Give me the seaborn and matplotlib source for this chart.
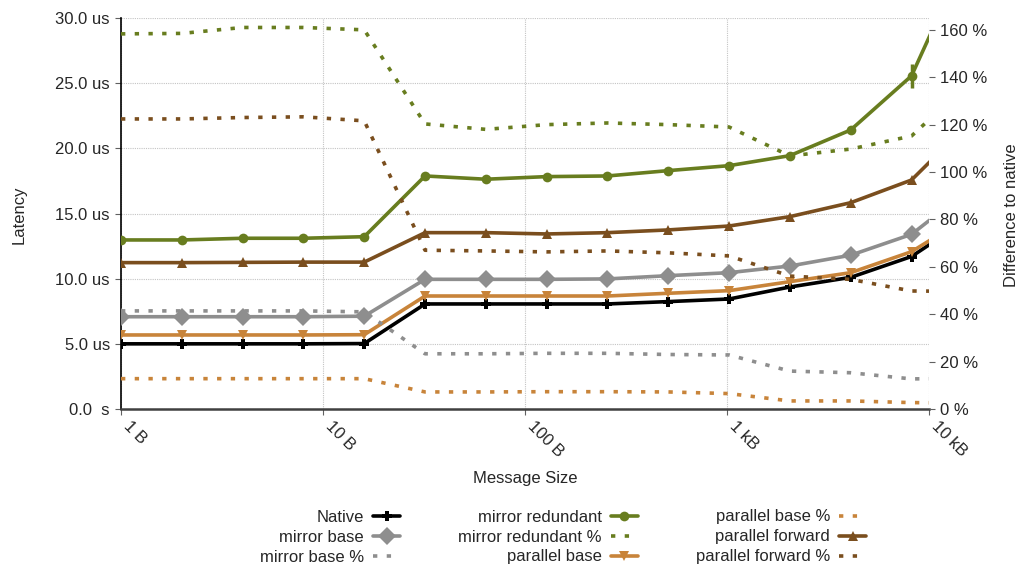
import numpy as np
import matplotlib
matplotlib.use("Agg")
import matplotlib.pyplot as plt
from matplotlib.ticker import FuncFormatter, FixedLocator, NullLocator
from matplotlib.lines import Line2D
import seaborn as sns

# Message sizes in bytes (the 16 kB sample lies past the 10 kB axis limit)
sizes = [1, 2, 4, 8, 16, 32, 64, 128, 256, 512, 1024, 2048, 4096, 8192, 16384]

# Latency in microseconds
native = [5.0, 5.0, 5.0, 5.0, 5.02, 8.06, 8.06, 8.06, 8.06, 8.24, 8.44, 9.36, 10.1, 11.7, 14.8]
mirror_base = [7.08, 7.08, 7.08, 7.08, 7.12, 9.95, 9.95, 9.95, 9.98, 10.23, 10.46, 10.97, 11.8, 13.4, 17.05]
mirror_redundant = [12.97, 12.97, 13.1, 13.1, 13.22, 17.88, 17.63, 17.83, 17.88, 18.29, 18.67, 19.44, 21.41, 25.56, 35.8]
mirror_redundant_err = [0, 0, 0, 0, 0, 0, 0, 0, 0, 0, 0, 0, 0, 0.9, 0]
parallel_base = [5.68, 5.68, 5.68, 5.68, 5.7, 8.67, 8.67, 8.67, 8.67, 8.88, 9.08, 9.77, 10.46, 12.07, 14.95]
parallel_forward = [11.23, 11.23, 11.25, 11.27, 11.27, 13.53, 13.53, 13.43, 13.53, 13.74, 14.04, 14.76, 15.83, 17.57, 22.2]

# Overhead relative to native, in percent
mirror_base_pct = [41.4, 41.4, 41.4, 41.4, 41.0, 23.3, 23.3, 23.5, 23.5, 23.0, 22.8, 16.0, 15.3, 12.7, 13.0]
mirror_redundant_pct = [158.3, 158.5, 161.0, 161.0, 160.0, 120.3, 118.0, 120.0, 120.7, 120.0, 119.0, 106.8, 109.7, 115.2, 139.0]
parallel_base_pct = [12.8, 12.8, 12.8, 12.8, 12.8, 7.2, 7.2, 7.3, 7.3, 7.2, 6.5, 3.4, 3.4, 2.7, 2.5]
parallel_forward_pct = [122.4, 122.4, 123.0, 123.3, 121.6, 67.0, 66.7, 66.3, 66.7, 65.9, 64.6, 56.1, 54.7, 49.8, 49.6]

x_ticks = [1, 10, 100, 1000, 10000]
x_tick_labels = ["1 B", "10 B", "100 B", "1 kB", "10 kB"]
y_ticks = [0, 5, 10, 15, 20, 25, 30]
pct_ticks = [0, 20, 40, 60, 80, 100, 120, 140, 160]

BLACK = "#000000"
GRAY = "#8e8e8e"
GREEN = "#687d1f"
ORANGE = "#c8843a"
BROWN = "#7a4e1e"

sns.set_style("white")
plt.rcParams["font.family"] = ["Liberation Sans", "DejaVu Sans"]
plt.rcParams["font.size"] = 12

fig = plt.figure(figsize=(10.18, 5.67), dpi=100)
ax = fig.add_axes([121 / 1018, 1 - 409 / 567, 808 / 1018, 391 / 567])
ax2 = ax.twinx()

LW = 2.6
DOT_LW = 2.6
DOT = (0, (1.2, 2.6))

solid_specs = [
    ("Native", native, BLACK, "P", dict(markersize=7.5, markeredgewidth=0)),
    ("mirror base", mirror_base, GRAY, "D", dict(markersize=9, markeredgewidth=0)),
    ("mirror redundant", mirror_redundant, GREEN, "o", dict(markersize=7, markeredgewidth=0)),
    ("parallel base", parallel_base, ORANGE, "v", dict(markersize=7, markeredgewidth=0)),
    ("parallel forward", parallel_forward, BROWN, "^", dict(markersize=7, markeredgewidth=0)),
]
pct_specs = [
    ("mirror base %", mirror_base_pct, GRAY),
    ("mirror redundant %", mirror_redundant_pct, GREEN),
    ("parallel base %", parallel_base_pct, ORANGE),
    ("parallel forward %", parallel_forward_pct, BROWN),
]

handles = {}
for name, vals, col, mk, mkw in solid_specs:
    sns.lineplot(x=sizes, y=vals, ax=ax, color=col, linewidth=LW, marker=mk,
                 markerfacecolor=col, markeredgecolor=col, zorder=3, **mkw)
    handles[name] = Line2D([], [], color=col, linewidth=LW, marker=mk,
                           markerfacecolor=col, markeredgecolor=col, **mkw)

ax.errorbar(sizes, mirror_redundant, yerr=mirror_redundant_err, fmt="none",
            ecolor=GREEN, elinewidth=2.5, capsize=0, zorder=3)

for name, vals, col in pct_specs:
    sns.lineplot(x=sizes, y=vals, ax=ax2, color=col, linewidth=DOT_LW,
                 linestyle=DOT, dash_capstyle="butt", zorder=2)
    handles[name] = Line2D([], [], color=col, linewidth=DOT_LW, linestyle=DOT,
                           dash_capstyle="butt")

# Axes scales and ticks
ax.set_xscale("log")
ax.set_xlim(1, 10000)
ax.set_ylim(0, 30)
ax2.set_ylim(0, 165)

ax.xaxis.set_major_locator(FixedLocator(x_ticks))
ax.xaxis.set_minor_locator(NullLocator())
ax.set_xticklabels(x_tick_labels, rotation=-45, ha="left", va="top",
                   rotation_mode="default")
ax.yaxis.set_major_locator(FixedLocator(y_ticks))
ax.yaxis.set_major_formatter(FuncFormatter(
    lambda v, p: "0.0  s" if v == 0 else f"{v:.1f} us"))
ax2.yaxis.set_major_locator(FixedLocator(pct_ticks))
ax2.yaxis.set_major_formatter(FuncFormatter(lambda v, p: f"{v:.0f} %"))

ax.tick_params(axis="y", which="major", direction="out", length=4, width=0.8,
               color="#606060", labelsize=12, pad=4, left=True)
ax.tick_params(axis="x", which="major", direction="out", length=4, width=0.8,
               color="#606060", labelsize=12, pad=3, bottom=True)
ax2.tick_params(axis="y", which="major", direction="out", length=4, width=0.8,
                color="#606060", labelsize=12, pad=4, right=True)

# Dotted grid
ax.grid(True, which="major", axis="both", color="#c4c4c4", linestyle=(0, (1, 1)),
        linewidth=0.8)
ax.set_axisbelow(True)
ax2.grid(False)

for a in (ax, ax2):
    a.spines["top"].set_visible(False)
    a.spines["right"].set_visible(False)
ax2.spines["left"].set_visible(False)
ax2.spines["bottom"].set_visible(False)
ax.spines["left"].set_color("#000000")
ax.spines["left"].set_linewidth(1.2)
ax.spines["bottom"].set_color("#404040")
ax.spines["bottom"].set_linewidth(1.8)

# Axis titles
ax.set_xlabel("Message Size", fontsize=12, va="center")
ax.xaxis.set_label_coords(0.5, (409 - 478) / 391)
ax.set_ylabel("Latency", fontsize=12, va="center")
ax.yaxis.set_label_coords((19 - 121) / 808, 0.496)
ax2.set_ylabel("Difference to native", fontsize=12, va="center", rotation=90)
ax2.yaxis.set_label_coords((1011 - 121) / 808, 0.496)

order = ["Native", "mirror base", "mirror base %",
         "mirror redundant", "mirror redundant %", "parallel base",
         "parallel base %", "parallel forward", "parallel forward %"]
fig.legend([handles[k] for k in order], order, loc="center",
           bbox_to_anchor=(563 / 1018, 1 - 537 / 567), ncol=3, frameon=False,
           markerfirst=False, fontsize=12, handlelength=1.6, handletextpad=0.55,
           columnspacing=3.5, labelspacing=0.3, borderpad=0)

fig.savefig("out.png", dpi=100)
